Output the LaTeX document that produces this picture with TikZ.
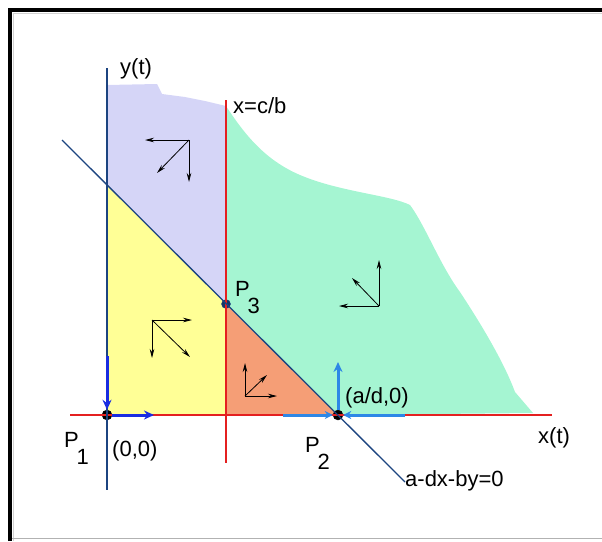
\documentclass[tikz,border=0pt]{standalone}
\usepackage{fontspec}
\setmainfont{Liberation Sans}
\usetikzlibrary{arrows.meta, backgrounds, positioning}

\definecolor{lavender}{RGB}{213,213,247}
\definecolor{lemon}{RGB}{255,255,150}
\definecolor{salmon}{RGB}{245,158,118}
\definecolor{mint}{RGB}{165,245,210}
\definecolor{axisred}{RGB}{228,32,32}
\definecolor{axisblue}{RGB}{28,68,128}
\definecolor{arrblue}{RGB}{25,45,225}
\definecolor{skyblue}{RGB}{45,135,230}

\newcommand{\plab}[1]{P\hspace{-0.1em}\raisebox{-0.8em}{#1}}

\begin{document}
\begin{tikzpicture}[x=1pt, y=-1pt, font=\fontsize{22}{26}\selectfont,
    field/.style={black, line width=0.8pt, -{Stealth[length=9pt,width=4.5pt]}},
    flow/.style={arrblue, line width=3pt, -{Stealth[length=10pt,width=9pt]}},
    txt/.style={anchor=base west, inner sep=0pt}]
    \useasboundingbox (0,0) rectangle (602,541);

    % frame
    \draw[line width=4pt] (10,541) -- (10,10) -- (602,10);
    \draw[gray!35, line width=0.8pt] (13,541) -- (13,13.5) -- (602,13.5);
    \draw[gray!60, line width=1.5pt] (12,538.5) -- (602,538.5);

    % Define nodes
    \node[draw=black, circle, fill=black, inner sep=0pt, minimum size=10pt] (P1) at (107,415) {};
    \node[draw=black, circle, fill=black, inner sep=0pt, minimum size=10pt] (P2) at (338,415) {};
    \node[draw=axisblue, circle, fill=axisblue!80!black, inner sep=0pt, minimum size=9pt] (P3) at (226,304) {};

    \coordinate (ytop) at (107,68);
    \coordinate (ybot) at (107,490);
    \coordinate (xleft) at (70,415);
    \coordinate (xright) at (552,415);
    \coordinate (ctop) at (226,100);
    \coordinate (cbot) at (226,463);
    \coordinate (ltop) at (62,140);
    \coordinate (lbot) at (405,482);

    % Regions
    \begin{scope}[on background layer]
        \fill[lavender] (107,85) -- (157,84) -- (162,94) -- (185,97) -- (205,101) -- (226,106)
            -- (P3.center) -- (107,185) -- cycle;
        \fill[lemon] (107,185) -- (P3.center) -- (226,415) -- (P1.center) -- cycle;
        \fill[salmon] (P3.center) -- (P2.center) -- (226,415) -- cycle;
        \fill[mint] (226,106) .. controls (245,135) and (265,160) .. (300,175)
            .. controls (340,192) and (390,195) .. (410,205)
            .. controls (425,225) and (440,265) .. (460,292)
            .. controls (485,330) and (505,365) .. (515,392)
            -- (533,413) -- (P2.center) -- (P3.center) -- cycle;
    \end{scope}

    % Draw edges
    \draw[axisred, line width=2.2pt] (xleft) -- (xright);
    \draw[axisred, line width=2.2pt] (ctop) -- (cbot);
    \draw[axisblue, line width=2.2pt] (ytop) -- (ybot);
    \draw[axisblue, line width=1.3pt] (ltop) -- (lbot);

    % flow on the axes
    \coordinate (p1in) at (107,356);
    \coordinate (p1out) at (154,415);
    \draw[flow] (p1in) -- (P1);
    \draw[flow] (P1) -- (p1out);

    \coordinate (p2left) at (283,415);
    \coordinate (p2right) at (405,415);
    \coordinate (p2up) at (338,362);
    \draw[skyblue, line width=3pt, -{Stealth[length=8pt,width=8pt,open]}] (p2left) -- (P2);
    \draw[skyblue, line width=3pt, -{Stealth[length=8pt,width=8pt,open]}] (p2right) -- (P2);
    \draw[skyblue, line width=3pt, -{Stealth[length=10pt,width=9pt]}] (P2) -- (p2up);

    % direction field
    \coordinate (fa) at (189,140);
    \draw[field] (fa) -- ++(-44,0);
    \draw[field] (fa) -- ++(0,42);
    \draw[field] (fa) -- ++(-32,33);

    \coordinate (fb) at (152,320);
    \draw[field] (fb) -- ++(40,0);
    \draw[field] (fb) -- ++(0,38);
    \draw[field] (fb) -- ++(38,37);

    \coordinate (fc) at (245,396);
    \draw[field] (fc) -- ++(0,-33);
    \draw[field] (fc) -- ++(32,0);
    \draw[field] (fc) -- ++(22,-21);

    \coordinate (fd) at (379,306);
    \draw[field] (fd) -- ++(0,-46);
    \draw[field] (fd) -- ++(-40,0);
    \draw[field] (fd) -- ++(-27,-28);

    % labels
    \node[txt] (ylab) at (120,74) {y(t)};
    \node[txt] (clab) at (233,113) {x=c/b};
    \node[txt] (xlab) at (538,443) {x(t)};
    \node[txt] (olab) at (112,456) {(0,0)};
    \node[txt] (alab) at (345,403) {(a/d,0)};
    \node[txt] (llab) at (405,486) {a-dx-by=0};
    \node[txt] (p1lab) at (64,447) {\plab{1}};
    \node[txt] (p2lab) at (305,452) {\plab{2}};
    \node[txt] (p3lab) at (235,296) {\plab{3}};

\end{tikzpicture}
\end{document}
